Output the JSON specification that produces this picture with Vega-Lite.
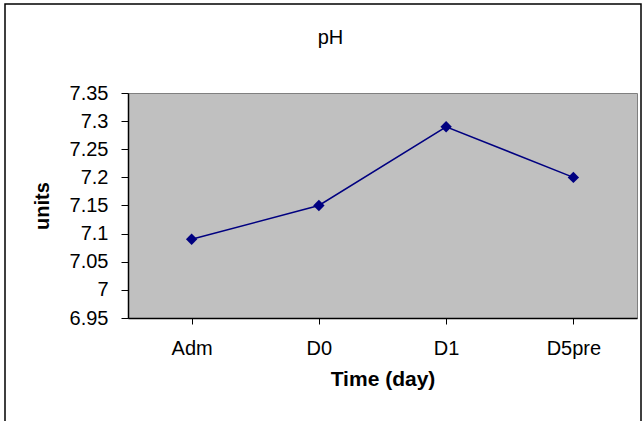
{
  "$schema": "https://vega.github.io/schema/vega-lite/v6.json",
  "autosize": "none",
  "width": 509,
  "height": 225,
  "padding": {"left": 128, "top": 93, "right": 7, "bottom": 103},
  "background": "white",
  "title": {
    "text": "pH",
    "anchor": "middle",
    "frame": "group",
    "offset": -45,
    "dx": -52,
    "font": "Liberation Sans",
    "fontSize": 20,
    "fontWeight": "normal",
    "color": "black"
  },
  "config": {
    "view": {"fill": "#C0C0C0", "stroke": "#808080", "strokeWidth": 1},
    "axis": {
      "labelFont": "Liberation Sans",
      "titleFont": "Liberation Sans",
      "labelColor": "black",
      "titleColor": "black",
      "domainColor": "black",
      "tickColor": "black",
      "grid": false,
      "labelOverlap": false
    }
  },
  "data": {
    "values": [
      {"time": "Adm", "ph": 7.09},
      {"time": "D0", "ph": 7.15},
      {"time": "D1", "ph": 7.29},
      {"time": "D5pre", "ph": 7.2}
    ]
  },
  "encoding": {
    "x": {
      "field": "time",
      "type": "ordinal",
      "sort": null,
      "scale": {"paddingInner": 0, "paddingOuter": 0},
      "axis": {
        "title": "Time (day)",
        "titleFontSize": 21,
        "titleFontWeight": "bold",
        "titlePadding": 10,
        "labelFontSize": 20,
        "labelAngle": 0,
        "labelPadding": 14,
        "bandPosition": 0,
        "tickSize": 6,
        "domainWidth": 1.5
      }
    },
    "y": {
      "field": "ph",
      "type": "quantitative",
      "scale": {"domain": [6.95, 7.35], "nice": false, "zero": false},
      "axis": {
        "title": "units",
        "titleFontSize": 20,
        "titleFontWeight": "bold",
        "titlePadding": 17,
        "labelFontSize": 20,
        "labelPadding": 13,
        "labelOverlap": false,
        "labelBound": false,
        "labelFlush": false,
        "tickCount": 9,
        "values": [6.95, 7, 7.05, 7.1, 7.15, 7.2, 7.25, 7.3, 7.35],
        "format": "~f",
        "tickSize": 7,
        "domainWidth": 1.5
      }
    }
  },
  "layer": [
    {
      "mark": {"type": "line", "color": "#000080", "strokeWidth": 1.5}
    },
    {
      "mark": {"type": "point", "shape": "diamond", "filled": true, "color": "#000080", "size": 130, "opacity": 1}
    },
    {
      "data": {"values": [{}]},
      "mark": {"type": "rect", "fill": null, "stroke": "black", "strokeWidth": 1.5},
      "encoding": {
        "x": {"value": -123},
        "y": {"value": -89},
        "x2": {"value": 513},
        "y2": {"value": 340}
      }
    }
  ]
}
